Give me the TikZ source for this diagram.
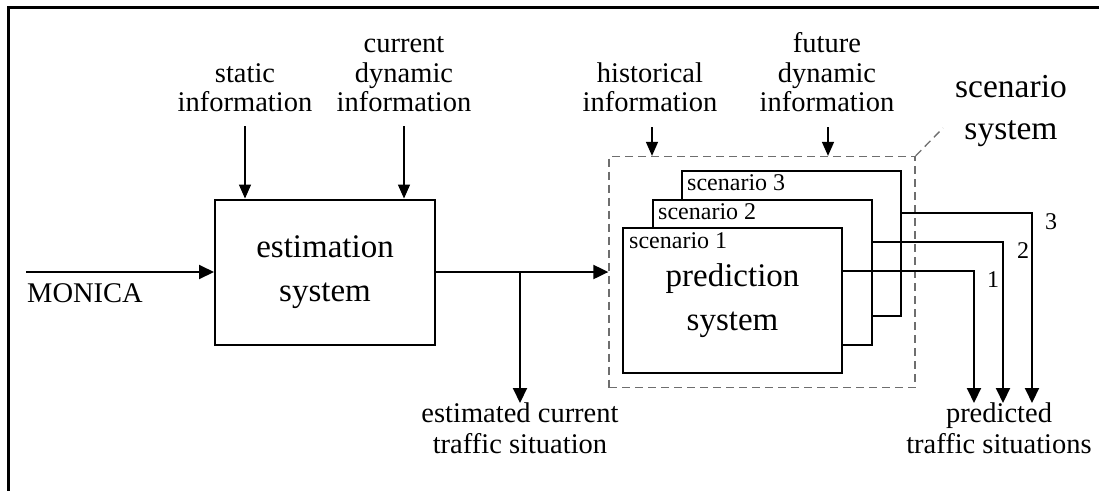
\documentclass[tikz,border=0pt]{standalone}
\usepackage{fontspec}
\setmainfont{Liberation Serif}
\usetikzlibrary{arrows.meta,calc}
\definecolor{dashgray}{HTML}{6E6E6E}
\newcommand\dgbigfont{\fontsize{33}{44}\selectfont}
\newcommand\dglblfont{\fontsize{28.5}{29.5}\selectfont}
\newcommand\dgsmallfont{\fontsize{24}{26}\selectfont}
\begin{document}
\begin{tikzpicture}[x=1pt,y=-1pt,
  box/.style={draw,line width=2pt,minimum width=220pt,minimum height=145pt,inner sep=0pt,align=center,font=\dgbigfont},
  scen/.style={draw,line width=2pt,fill=white,minimum width=219pt,minimum height=145pt,inner sep=0pt},
  lbl/.style={inner sep=0pt,align=center,text depth=0pt,anchor=south,font=\dglblfont},
  small/.style={inner sep=0pt,font=\dgsmallfont,anchor=base},
  flow/.style={line width=2pt,-{Triangle[length=15pt,width=14pt]}},
  feed/.style={line width=1.5pt,-{Triangle[length=14pt,width=12pt]}},
  wire/.style={line width=2pt},
  dashbox/.style={draw=dashgray,line width=1.3pt,dash pattern=on 8pt off 5pt,minimum width=306pt,minimum height=231pt,inner sep=0pt}
  ]
\useasboundingbox (0,0) rectangle (1099,491);
% frame
\draw[line width=3pt] (1099,7) -- (8,7) -- (8,491);

% estimation system
\node[box] (est) at (325,272) {estimation\\system};

% scenario system (dashed)
\node[dashbox] (scen) at (762,272) {};
\coordinate (diag) at (943,128);
\draw[dashgray,line width=1.3pt,dash pattern=on 8pt off 5pt] (scen.north east) -- (diag);

% scenario boxes
\node[scen] (s3) at (791,243.5) {};
\node[scen] (s2) at (762,272) {};
\node[scen,align=center,font=\dgbigfont] (s1) at (732.5,300.5) {prediction\\system};
\node[small,anchor=base west] (l3) at (687,190) {scenario 3};
\node[small,anchor=base west] (l2) at (658,219) {scenario 2};
\node[small,anchor=base west] (l1) at (629,248) {scenario 1};

% inputs
\coordinate (min) at (26,272);
\node[lbl,anchor=base west] (monica) at (27,302) {MONICA};
\draw[flow] (min) -- (est.west);

\coordinate (f1) at (245,126);
\coordinate (f2) at (404,126);
\coordinate (f3) at (652,127);
\coordinate (f4) at (828,127);
\draw[feed] (f1) -- (f1 |- est.north);
\draw[feed] (f2) -- (f2 |- est.north);
\draw[feed] (f3) -- (f3 |- scen.north);
\draw[feed] (f4) -- (f4 |- scen.north);

\node[lbl] (Lstatic) at (245,112) {static\\information};
\node[lbl] (Lcur) at (404,112) {current\\dynamic\\information};
\node[lbl] (Lhist) at (650,112) {historical\\information};
\node[lbl] (Lfut) at (827,112) {future\\dynamic\\information};
\node[lbl,font=\fontsize{33.5}{42}\selectfont] (Lscen) at (1011,140) {scenario\\system};

% main flow
\draw[flow] (est.east) -- (scen.west);
\coordinate (br) at (520,272);
\coordinate (brend) at (520,403);
\draw[flow] (br) -- (brend);
\node[lbl,font=\fontsize{28.5}{31}\selectfont] (Lest) at (520,454) {estimated current\\traffic situation};

% outputs
\coordinate (t1) at (974,403);
\coordinate (t2) at (1003,403);
\coordinate (t3) at (1032,403);
\draw[flow] ([yshift=-44pt]s1.north east) -| (t1);
\draw[flow] ([yshift=-43pt]s2.north east) -| (t2);
\draw[flow] ([yshift=-43pt]s3.north east) -| (t3);
\node[small] (n1) at (993,287) {1};
\node[small] (n2) at (1023,258) {2};
\node[small] (n3) at (1051,229) {3};
\node[lbl,font=\fontsize{28.5}{31}\selectfont] (Lpred) at (999,454) {predicted\\traffic situations};
\end{tikzpicture}
\end{document}
